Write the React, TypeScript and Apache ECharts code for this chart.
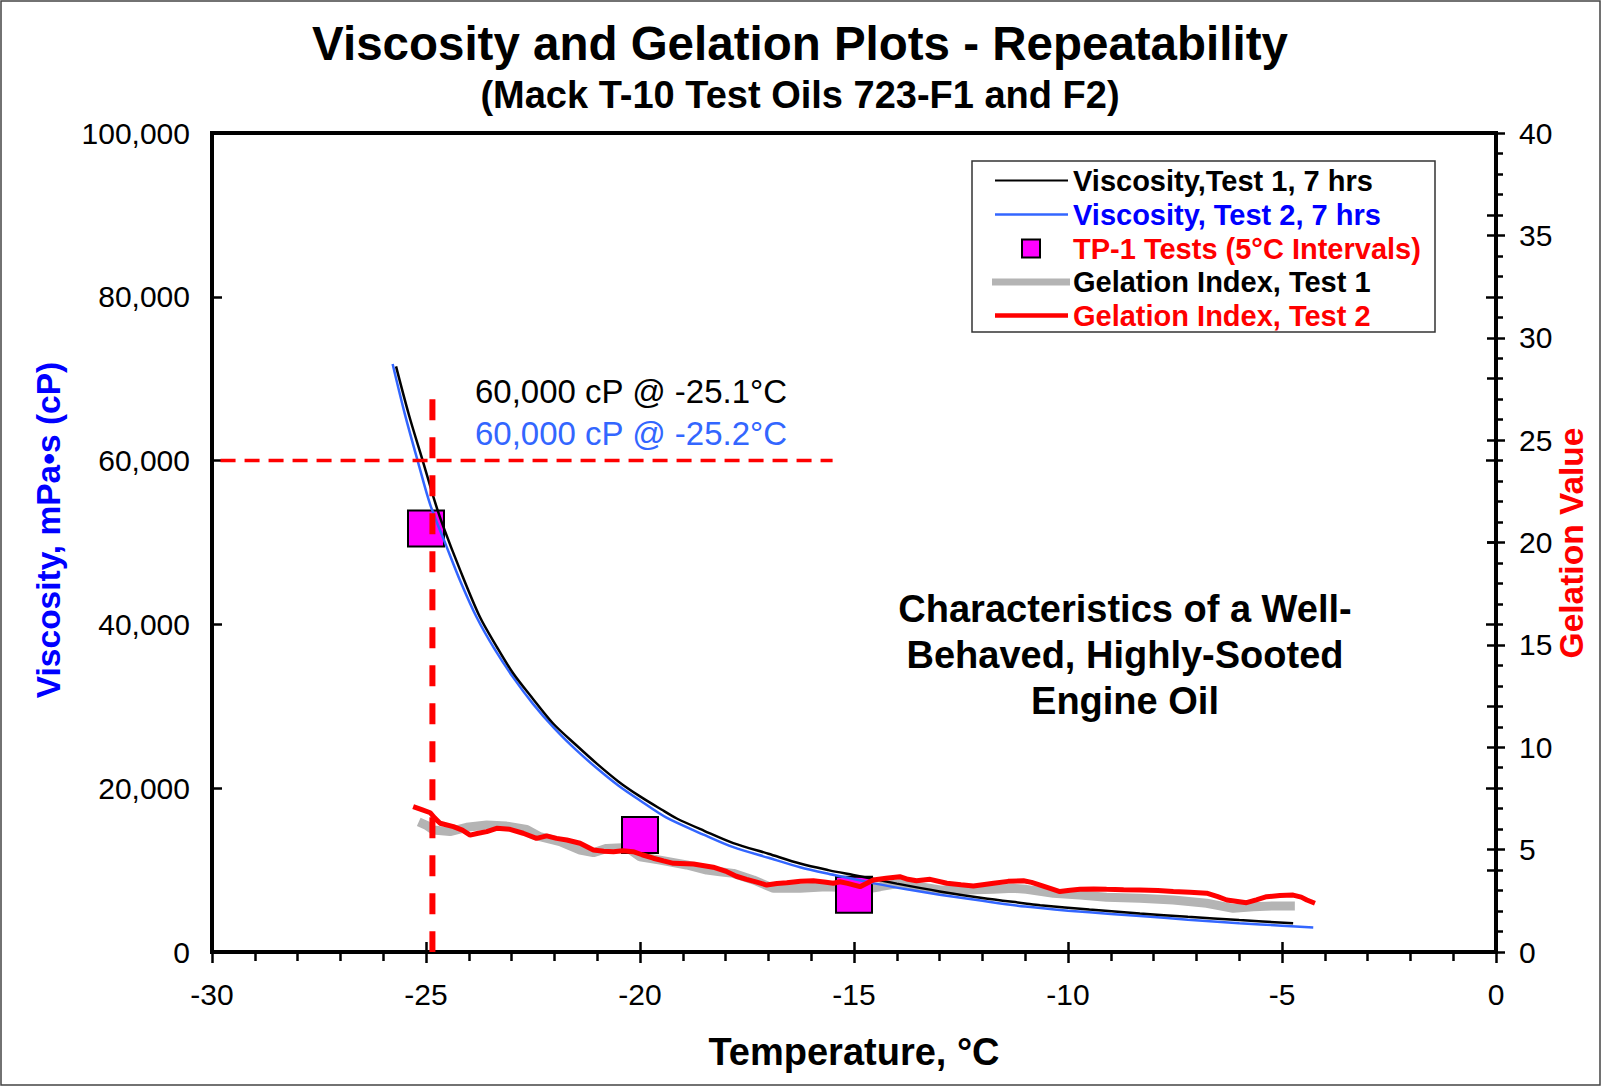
import React, { useEffect, useRef } from "react";
import * as echarts from "echarts";

const FONT = "'Liberation Sans', Arial, Helvetica, sans-serif";

// Brookfield-type viscosity scans, [temperature °C, viscosity mPa·s]
const viscosityTest1: [number, number][] = [
  [-25.7, 71500], [-25.4, 65600], [-25.06, 59700], [-24.8, 55100], [-24.6, 52000],
  [-24.2, 46600], [-23.74, 40900], [-23.35, 37300], [-22.96, 34000], [-22.5, 30900],
  [-22.03, 27900], [-21.5, 25300], [-21.01, 23000], [-20.5, 20800], [-20.0, 19000],
  [-19.5, 17400], [-19.14, 16300], [-18.5, 14800], [-17.82, 13300], [-17.0, 12000],
  [-16.26, 10800], [-15.6, 10000], [-15.02, 9400], [-14.0, 8350], [-13.0, 7400],
  [-12.0, 6600], [-11.0, 5930], [-10.65, 5700], [-9.5, 5180], [-8.32, 4700],
  [-7.2, 4300], [-6.0, 3900], [-4.74, 3500],
];

const viscosityTest2: [number, number][] = [
  [-25.78, 71800], [-25.5, 65800], [-25.18, 59700], [-24.9, 54600], [-24.52, 49500],
  [-24.2, 45300], [-23.82, 40900], [-23.4, 37000], [-22.96, 33500], [-22.5, 30300],
  [-22.0, 27300], [-21.5, 24700], [-21.0, 22400], [-20.5, 20300], [-20.0, 18500],
  [-19.38, 16400], [-18.5, 14300], [-17.82, 12800], [-17.0, 11500], [-16.26, 10350],
  [-15.6, 9550], [-15.17, 9100], [-14.5, 8350], [-13.77, 7650], [-13.0, 7000],
  [-12.0, 6250], [-11.0, 5550], [-10.0, 5050], [-9.0, 4650], [-8.32, 4400],
  [-7.2, 3950], [-6.0, 3500], [-5.0, 3220], [-4.27, 3000],
];

// TP-1 mini-rotary viscometer results at 5 °C steps
const tp1Tests: [number, number][] = [
  [-25.0, 51700], [-20.0, 14300], [-15.0, 7000],
];

// Gelation index traces, [temperature °C, gelation value]
const gelationTest1: [number, number][] = [
  [-25.17, 6.36], [-25.0, 6.2], [-24.83, 5.96], [-24.44, 5.88], [-24.05, 6.09],
  [-23.58, 6.2], [-23.12, 6.15], [-22.65, 5.99], [-22.34, 5.63], [-21.87, 5.39],
  [-21.4, 4.98], [-21.09, 4.85], [-20.78, 5.06], [-20.31, 5.11], [-20.0, 4.65],
  [-19.53, 4.49], [-18.91, 4.25], [-18.44, 4.0], [-18.13, 3.92], [-17.82, 3.84],
  [-17.35, 3.52], [-16.88, 3.11], [-16.26, 3.11], [-15.64, 3.19], [-15.17, 3.14],
  [-14.86, 3.03], [-14.39, 3.19], [-13.93, 3.36], [-13.46, 3.19], [-12.99, 3.03],
  [-12.37, 3.03], [-11.74, 3.06], [-11.28, 3.11], [-10.97, 3.06], [-10.34, 2.87],
  [-9.72, 2.78], [-9.1, 2.67], [-8.32, 2.62], [-7.54, 2.54], [-6.76, 2.38],
  [-6.14, 2.13], [-5.67, 2.21], [-5.21, 2.25], [-4.7, 2.25],
];

const gelationTest2: [number, number][] = [
  [-25.3, 7.1], [-25.1, 6.95], [-24.9, 6.8], [-24.8, 6.55], [-24.67, 6.29],
  [-24.36, 6.12], [-24.15, 5.95], [-23.97, 5.71], [-23.78, 5.8], [-23.58, 5.88],
  [-23.35, 6.04], [-23.04, 5.99], [-22.73, 5.8], [-22.42, 5.55], [-22.18, 5.67],
  [-21.95, 5.55], [-21.71, 5.47], [-21.4, 5.31], [-21.09, 4.98], [-20.85, 4.92],
  [-20.62, 4.9], [-20.4, 4.95], [-20.16, 4.9], [-19.95, 4.75], [-19.69, 4.58],
  [-19.45, 4.45], [-19.22, 4.33], [-18.75, 4.3], [-18.29, 4.14], [-17.97, 3.92],
  [-17.75, 3.7], [-17.51, 3.55], [-17.25, 3.4], [-17.04, 3.27], [-16.8, 3.35],
  [-16.57, 3.38], [-16.25, 3.45], [-15.95, 3.48], [-15.7, 3.42], [-15.48, 3.36],
  [-15.33, 3.43], [-15.15, 3.35], [-14.86, 3.19], [-14.55, 3.52], [-14.25, 3.6],
  [-13.93, 3.68], [-13.74, 3.55], [-13.54, 3.48], [-13.22, 3.55], [-12.83, 3.36],
  [-12.5, 3.28], [-12.21, 3.22], [-11.95, 3.3], [-11.74, 3.36], [-11.4, 3.45],
  [-11.04, 3.48], [-10.85, 3.4], [-10.65, 3.27], [-10.4, 3.1], [-10.19, 2.95],
  [-9.95, 3.02], [-9.72, 3.06], [-9.4, 3.08], [-9.1, 3.06], [-8.7, 3.04],
  [-8.32, 3.03], [-7.9, 3.0], [-7.54, 2.95], [-7.15, 2.92], [-6.76, 2.87],
  [-6.5, 2.7], [-6.29, 2.54], [-5.83, 2.41], [-5.6, 2.55], [-5.36, 2.7],
  [-5.05, 2.76], [-4.74, 2.78], [-4.55, 2.68], [-4.42, 2.54], [-4.23, 2.38],
];

// 60,000 cP critical viscosity guide lines
const limitViscosity = 60000;
const limitTemperature = -24.85;
const limitHLine: [number, number][] = [[-29.8, limitViscosity], [-15.5, limitViscosity]];
const limitVLine: [number, number][] = [[limitTemperature, 67500], [limitTemperature, 0]];

const labelTest1 = "60,000 cP @ -25.1°C";
const labelTest2 = "60,000 cP @ -25.2°C";
const noteLines = ["Characteristics of a Well-", "Behaved, Highly-Sooted", "Engine Oil"];

const legendItems = [
  { text: "Viscosity,Test 1, 7 hrs", color: "#000000" },
  { text: "Viscosity, Test 2, 7 hrs", color: "#0000ff" },
  { text: "TP-1 Tests (5°C Intervals)", color: "#ff0000" },
  { text: "Gelation Index, Test 1", color: "#000000" },
  { text: "Gelation Index, Test 2", color: "#ff0000" },
];

const BLACK = "#000000";
const BLUE_LINE = "#3366ff";
const MAGENTA = "#ff00ff";
const RED = "#ff0000";
const GRAY = "#b4b4b4";

function buildLegend(): any[] {
  const left = 972;
  const top = 161;
  const rowY = [180.5, 214.5, 248.5, 282, 315.5];
  const x1 = 995;
  const x2 = 1068;
  const textX = 1073;
  const els: any[] = [
    {
      type: "rect",
      shape: { x: left, y: top, width: 463, height: 171 },
      style: { fill: "#ffffff", stroke: "#333333", lineWidth: 1.5 },
      z: 10,
    },
    { type: "line", shape: { x1, y1: rowY[0], x2, y2: rowY[0] }, style: { stroke: BLACK, lineWidth: 2 }, z: 11 },
    { type: "line", shape: { x1, y1: rowY[1], x2, y2: rowY[1] }, style: { stroke: BLUE_LINE, lineWidth: 2.5 }, z: 11 },
    {
      type: "rect",
      shape: { x: 1022, y: rowY[2] - 9, width: 18, height: 18 },
      style: { fill: MAGENTA, stroke: BLACK, lineWidth: 2 },
      z: 11,
    },
    { type: "line", shape: { x1: 992, y1: rowY[3], x2: 1070, y2: rowY[3] }, style: { stroke: GRAY, lineWidth: 7 }, z: 11 },
    { type: "line", shape: { x1, y1: rowY[4], x2, y2: rowY[4] }, style: { stroke: RED, lineWidth: 4.5 }, z: 11 },
  ];
  legendItems.forEach((item, i) => {
    els.push({
      type: "text",
      x: textX,
      y: rowY[i],
      z: 11,
      style: {
        text: item.text,
        fill: item.color,
        font: `bold 29px ${FONT}`,
        align: "left",
        verticalAlign: "middle",
      },
    });
  });
  return els;
}

export default function App() {
  const ref = useRef<HTMLDivElement>(null);

  useEffect(() => {
    document.body.style.margin = "0";
    if (!ref.current) return;
    const chart = echarts.init(ref.current, null, { renderer: "svg" });

    const axisLine = { show: true, lineStyle: { color: BLACK, width: 4 } };
    const tickStyle = { color: BLACK, width: 2.5 };
    const labelStyle = { color: BLACK, fontSize: 30, fontFamily: FONT };

    const option: any = {
      animation: false,
      backgroundColor: "#ffffff",
      textStyle: { fontFamily: FONT },
      grid: {
        left: 212,
        right: 106,
        top: 133,
        bottom: 135,
        show: true,
        borderColor: BLACK,
        borderWidth: 4,
        backgroundColor: "transparent",
      },
      xAxis: [
        {
          type: "value",
          min: -30,
          max: 0,
          interval: 5,
          position: "bottom",
          axisLine,
          axisTick: { show: true, inside: false, length: 11, lineStyle: tickStyle },
          minorTick: { show: true, splitNumber: 5, length: 9, lineStyle: tickStyle },
          splitLine: { show: false },
          axisLabel: { ...labelStyle, margin: 27 },
        },
        {
          type: "value",
          min: -30,
          max: 0,
          interval: 5,
          position: "bottom",
          axisLine: { show: false },
          axisTick: { show: true, inside: true, length: 10, lineStyle: tickStyle },
          splitLine: { show: false },
          axisLabel: { show: false },
        },
      ],
      yAxis: [
        {
          type: "value",
          min: 0,
          max: 100000,
          interval: 20000,
          position: "left",
          axisLine,
          axisTick: { show: true, inside: false, length: 10, lineStyle: tickStyle },
          minorTick: { show: true, splitNumber: 2, length: 9, lineStyle: tickStyle },
          splitLine: { show: false },
          axisLabel: {
            ...labelStyle,
            margin: 22,
            formatter: (v: number) => v.toLocaleString("en-US"),
          },
        },
        {
          type: "value",
          min: 0,
          max: 40,
          interval: 5,
          position: "right",
          axisLine,
          axisTick: { show: true, inside: false, length: 9, lineStyle: tickStyle },
          minorTick: { show: true, splitNumber: 5, length: 7, lineStyle: tickStyle },
          splitLine: { show: false },
          axisLabel: { ...labelStyle, margin: 23 },
        },
        {
          type: "value",
          min: 0,
          max: 100000,
          interval: 20000,
          position: "left",
          axisLine: { show: false },
          axisTick: { show: true, inside: true, length: 10, lineStyle: tickStyle },
          splitLine: { show: false },
          axisLabel: { show: false },
        },
        {
          type: "value",
          min: 0,
          max: 40,
          interval: 5,
          position: "right",
          axisLine: { show: false },
          axisTick: { show: true, inside: true, length: 9, lineStyle: tickStyle },
          splitLine: { show: false },
          axisLabel: { show: false },
        },
      ],
      series: [
        {
          name: "Gelation Index, Test 1",
          type: "line",
          yAxisIndex: 1,
          data: gelationTest1,
          symbol: "none",
          lineStyle: { color: GRAY, width: 9 },
          z: 2,
        },
        {
          name: "TP-1 Tests (5°C Intervals)",
          type: "scatter",
          data: tp1Tests,
          symbol: "rect",
          symbolSize: 36,
          itemStyle: { color: MAGENTA, borderColor: BLACK, borderWidth: 2, opacity: 1 },
          z: 3,
        },
        {
          name: "Viscosity, Test 2, 7 hrs",
          type: "line",
          data: viscosityTest2,
          symbol: "none",
          smooth: 0.3,
          lineStyle: { color: BLUE_LINE, width: 2.5 },
          z: 4,
        },
        {
          name: "Viscosity,Test 1, 7 hrs",
          type: "line",
          data: viscosityTest1,
          symbol: "none",
          smooth: 0.3,
          lineStyle: { color: BLACK, width: 2.5 },
          z: 5,
        },
        {
          name: "Gelation Index, Test 2",
          type: "line",
          yAxisIndex: 1,
          data: gelationTest2,
          symbol: "none",
          lineStyle: { color: RED, width: 5 },
          z: 6,
        },
        {
          name: "60,000 cP level",
          type: "line",
          data: limitHLine,
          symbol: "none",
          lineStyle: { color: RED, width: 3.5, type: [15, 9] },
          z: 7,
        },
        {
          name: "60,000 cP temperature",
          type: "line",
          data: limitVLine,
          symbol: "none",
          lineStyle: { color: RED, width: 6, type: [21, 17] },
          z: 7,
        },
      ],
      graphic: [
        {
          type: "rect",
          shape: { x: 1, y: 1, width: 1599, height: 1084 },
          style: { fill: "none", stroke: "#444444", lineWidth: 1.5 },
          z: 0,
          silent: true,
        },
        {
          type: "text",
          x: 800,
          y: 43,
          style: {
            text: "Viscosity and Gelation Plots - Repeatability",
            fill: BLACK,
            font: `bold 47.5px ${FONT}`,
            align: "center",
            verticalAlign: "middle",
          },
        },
        {
          type: "text",
          x: 800,
          y: 95,
          style: {
            text: "(Mack T-10 Test Oils 723-F1 and F2)",
            fill: BLACK,
            font: `bold 38px ${FONT}`,
            align: "center",
            verticalAlign: "middle",
          },
        },
        {
          type: "text",
          x: 475,
          y: 391,
          z: 8,
          style: { text: labelTest1, fill: BLACK, font: `33px ${FONT}`, align: "left", verticalAlign: "middle" },
        },
        {
          type: "text",
          x: 475,
          y: 433,
          z: 8,
          style: { text: labelTest2, fill: BLUE_LINE, font: `33px ${FONT}`, align: "left", verticalAlign: "middle" },
        },
        ...noteLines.map((t, i) => ({
          type: "text",
          x: 1125,
          y: 609 + i * 46,
          z: 8,
          style: { text: t, fill: BLACK, font: `bold 38px ${FONT}`, align: "center", verticalAlign: "middle" },
        })),
        {
          type: "text",
          x: 854,
          y: 1052,
          style: {
            text: "Temperature, °C",
            fill: BLACK,
            font: `bold 38px ${FONT}`,
            align: "center",
            verticalAlign: "middle",
          },
        },
        {
          type: "text",
          x: 48,
          y: 530,
          rotation: Math.PI / 2,
          style: {
            text: "Viscosity, mPa•s (cP)",
            fill: "#0000ff",
            font: `bold 33.5px ${FONT}`,
            align: "center",
            verticalAlign: "middle",
          },
        },
        {
          type: "text",
          x: 1571,
          y: 543,
          rotation: Math.PI / 2,
          style: {
            text: "Gelation Value",
            fill: RED,
            font: `bold 33.5px ${FONT}`,
            align: "center",
            verticalAlign: "middle",
          },
        },
        ...buildLegend(),
      ],
    };

    chart.setOption(option);
    return () => {
      chart.dispose();
    };
  }, []);

  return (
    <div
      ref={ref}
      style={{ position: "absolute", left: 0, top: 0, width: 1602, height: 1087, overflow: "hidden" }}
    />
  );
}
